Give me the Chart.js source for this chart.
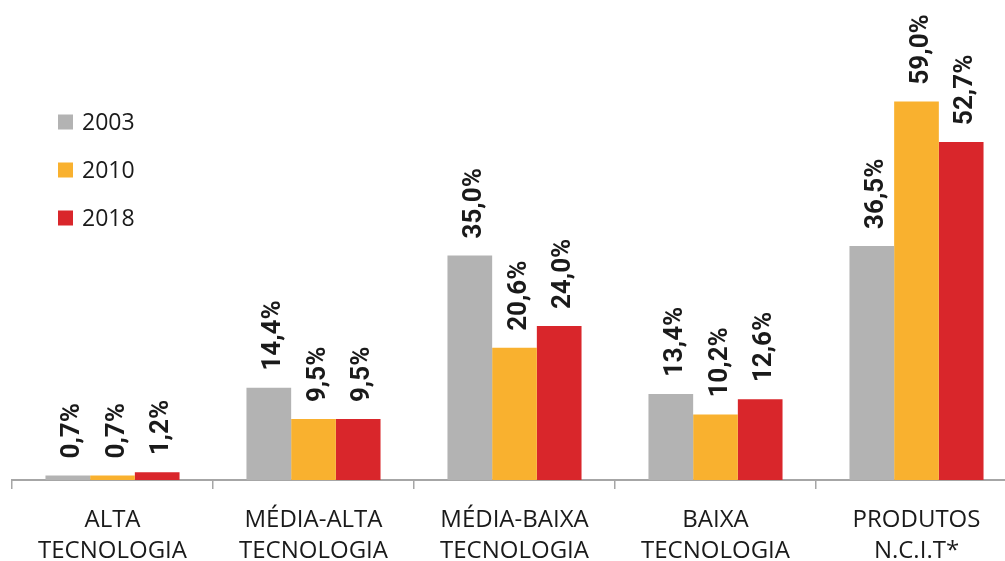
<!DOCTYPE html>
<html><head><meta charset="utf-8">
<script src="https://cdn.jsdelivr.net/npm/chart.js@4.4.1/dist/chart.umd.min.js"></script>
<style>
html,body{margin:0;padding:0;background:#fff;overflow:hidden;}
#wrap{position:relative;width:1030px;height:561px;}
</style></head><body>
<div id="wrap"><canvas id="c" width="1030" height="561"></canvas></div>
<script>
const categories = [["ALTA","TECNOLOGIA"],["MÉDIA-ALTA","TECNOLOGIA"],["MÉDIA-BAIXA","TECNOLOGIA"],["BAIXA","TECNOLOGIA"],["PRODUTOS","N.C.I.T*"]];
const seriesNames = ["2003","2010","2018"];
const values2003 = [0.7, 14.4, 35.0, 13.4, 36.5];
const values2010 = [0.7, 9.5, 20.6, 10.2, 59.0];
const values2018 = [1.2, 9.5, 24.0, 12.6, 52.7];
const colors = ["#b3b3b3", "#f9b12f", "#d9262b"];

const labelPlugin = {
  id: 'vlabels',
  afterDatasetsDraw(chart) {
    const ctx = chart.ctx;
    ctx.save();
    ctx.font = 'bold 26px Roboto';
    ctx.fillStyle = '#1a1a1a';
    chart.data.datasets.forEach((ds, i) => {
      const meta = chart.getDatasetMeta(i);
      meta.data.forEach((bar, j) => {
        const txt = ds.data[j].toFixed(1).replace('.', ',') + '%';
        ctx.save();
        ctx.translate(bar.x + 11, bar.y - 17);
        ctx.rotate(-Math.PI / 2);
        ctx.textAlign = 'left';
        ctx.textBaseline = 'alphabetic';
        ctx.fillText(txt, 0, 0);
        ctx.restore();
      });
    });
    ctx.restore();
  }
};

const legendPlugin = {
  id: 'sideLegend',
  afterDraw(chart) {
    const ctx = chart.ctx;
    ctx.save();
    ctx.font = '23px "Open Sans"';
    ctx.textBaseline = 'middle';
    ctx.textAlign = 'left';
    chart.data.datasets.forEach((ds, i) => {
      const cy = 122 + 48 * i;
      ctx.fillStyle = ds.backgroundColor;
      ctx.fillRect(58, cy - 7.5, 15, 15);
      ctx.fillStyle = '#1a1a1a';
      ctx.fillText(ds.label, 82, cy + 1);
    });
    ctx.restore();
  }
};

new Chart(document.getElementById('c'), {
  type: 'bar',
  data: {
    labels: categories,
    datasets: [
      { label: seriesNames[0], data: values2003, backgroundColor: colors[0] },
      { label: seriesNames[1], data: values2010, backgroundColor: colors[1] },
      { label: seriesNames[2], data: values2018, backgroundColor: colors[2] }
    ]
  },
  options: {
    responsive: false,
    animation: false,
    datasets: { bar: { categoryPercentage: 0.667, barPercentage: 1.0, borderWidth: 0 } },
    layout: { padding: { left: 12, right: 13, top: 31, bottom: 0 } },
    plugins: { legend: { display: false }, tooltip: { enabled: false } },
    scales: {
      x: {
        grid: { display: true, offset: true, drawOnChartArea: false, drawTicks: true, tickLength: 9, color: '#a6a6a6', lineWidth: 1.5 },
        border: { display: true, color: '#a6a6a6', width: 2 },
        ticks: { font: { family: 'Open Sans', size: 24, lineHeight: 1.32 }, color: '#1a1a1a', padding: 15, maxRotation: 0, autoSkip: false },
        afterFit(scale) { scale.height = 81; }
      },
      y: { display: false, min: 0, max: 70 }
    }
  },
  plugins: [labelPlugin, legendPlugin]
});
</script>
</body></html>
